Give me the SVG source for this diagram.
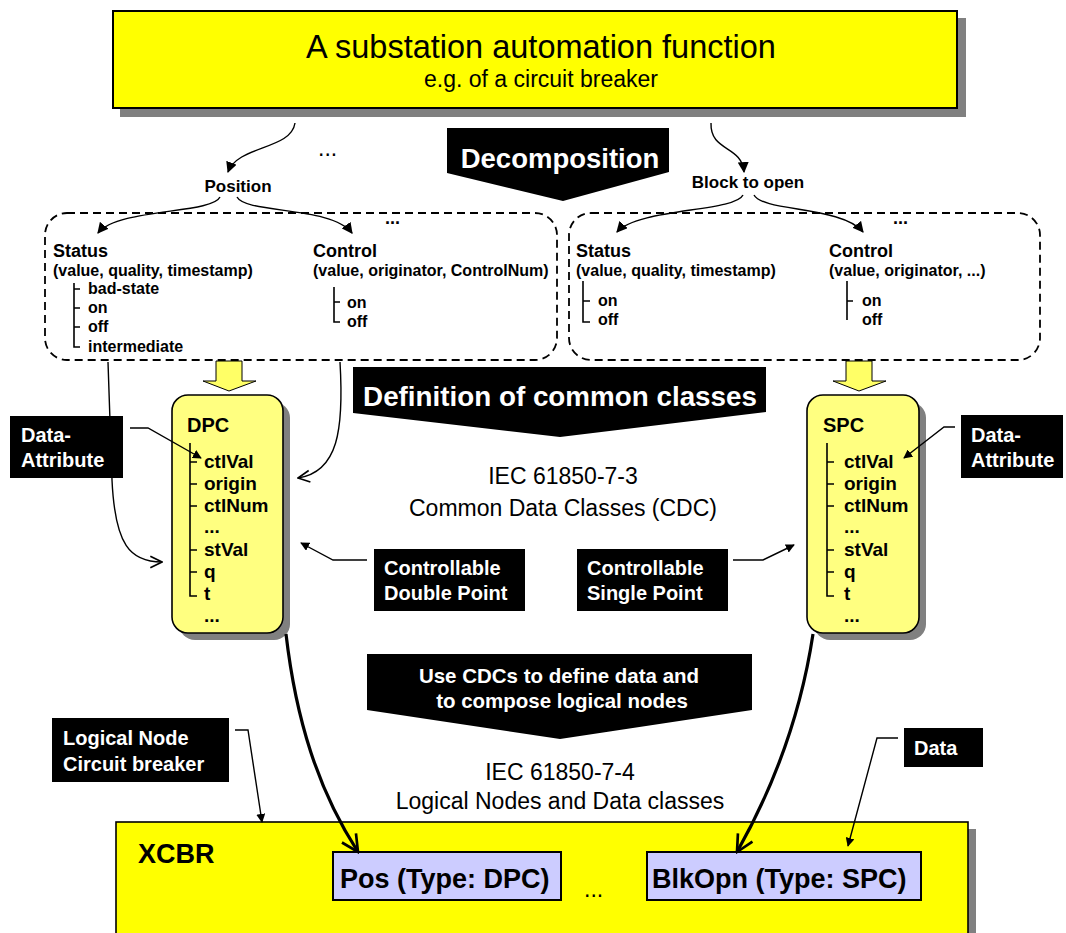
<svg xmlns="http://www.w3.org/2000/svg" width="1066" height="933" viewBox="0 0 1066 933">
<defs>
<marker id="fa" viewBox="0 0 10 10" refX="9" refY="5" markerWidth="9" markerHeight="9" markerUnits="userSpaceOnUse" orient="auto"><path d="M0,0 L10,5 L0,10 z" fill="#000"/></marker>
<marker id="fa2" viewBox="0 0 10 10" refX="9" refY="5" markerWidth="11" markerHeight="11" markerUnits="userSpaceOnUse" orient="auto"><path d="M0,0 L10,5 L0,10 z" fill="#000"/></marker>
<marker id="oa" viewBox="0 0 12 12" refX="11" refY="6" markerWidth="14" markerHeight="14" markerUnits="userSpaceOnUse" orient="auto"><path d="M1,1 L11,6 L1,11" fill="none" stroke="#000" stroke-width="1.4"/></marker>
<marker id="ob" viewBox="0 0 12 12" refX="11" refY="6" markerWidth="20" markerHeight="20" markerUnits="userSpaceOnUse" orient="auto"><path d="M1,1 L11,6 L1,11" fill="none" stroke="#000" stroke-width="1.6"/></marker>
</defs>
<style>
text{font-family:"Liberation Sans",Arial,sans-serif;}
.b{font-weight:bold;}
.w{fill:#fff;font-weight:bold;}
.thin{fill:none;stroke:#000;stroke-width:1.4;}
.thick{fill:none;stroke:#000;stroke-width:3.2;}
.dash{fill:none;stroke:#000;stroke-width:1.8;stroke-dasharray:8,5;}
.tree{fill:none;stroke:#000;stroke-width:1.6;}
.shadow{fill:#808080;}
.yl{fill:#FFFF00;stroke:#000;stroke-width:2;}
.ly{fill:#FFFF80;stroke:#000;stroke-width:1.6;}
.blk{fill:#000;}
.lav{fill:#CCCCFF;stroke:#000;stroke-width:2;}
</style>
<rect width="1066" height="933" fill="#fff"/>

<g id="top-function">
<rect class="shadow" x="120" y="18" width="846" height="99"/>
<rect class="yl" x="113" y="11" width="844" height="97"/>
<text x="541" y="58" font-size="32.5" text-anchor="middle">A substation automation function</text>
<text x="541" y="87" font-size="23" text-anchor="middle">e.g. of a circuit breaker</text>
</g>

<g id="decomposition">
<polygon class="blk" points="447,128 669,128 669,172 563,201 447,173"/>
<text class="w" x="560" y="168" font-size="27.5" text-anchor="middle">Decomposition</text>
</g>

<g id="labels-top">
<text class="b" x="238" y="192" font-size="17" text-anchor="middle">Position</text>
<text class="b" x="748" y="188" font-size="17" text-anchor="middle">Block to open</text>
<text x="318" y="156" font-size="23">...</text>
</g>

<g id="position-box">
<rect class="dash" x="45" y="213" width="512" height="147" rx="22"/>
<text class="b" x="385" y="224" font-size="18">...</text>
<text class="b" x="53" y="257" font-size="18">Status</text>
<text class="b" x="53" y="276" font-size="16">(value, quality, timestamp)</text>
<path class="tree" d="M74,283 V347 H80 M74,289 H80 M74,308 H80 M74,327 H80"/>
<text class="b" x="88" y="294" font-size="16">bad-state</text>
<text class="b" x="88" y="313" font-size="16">on</text>
<text class="b" x="88" y="332" font-size="16">off</text>
<text class="b" x="88" y="352" font-size="16">intermediate</text>
<text class="b" x="313" y="257" font-size="18">Control</text>
<text class="b" x="313" y="276" font-size="16">(value, originator, ControlNum)</text>
<path class="tree" d="M334,287 V322 H340 M334,302 H340"/>
<text class="b" x="347" y="308" font-size="16">on</text>
<text class="b" x="347" y="327" font-size="16">off</text>
</g>

<g id="block-box">
<rect class="dash" x="569" y="213" width="471" height="147" rx="22"/>
<text class="b" x="893" y="224" font-size="18">...</text>
<text class="b" x="576" y="257" font-size="18">Status</text>
<text class="b" x="576" y="276" font-size="16">(value, quality, timestamp)</text>
<path class="tree" d="M583,281 V322 H590 M583,301 H590"/>
<text class="b" x="598" y="306" font-size="16">on</text>
<text class="b" x="598" y="325" font-size="16">off</text>
<text class="b" x="829" y="257" font-size="18">Control</text>
<text class="b" x="829" y="276" font-size="16">(value, originator, ...)</text>
<path class="tree" d="M847,281 V320 M847,301 H853"/>
<text class="b" x="862" y="306" font-size="16">on</text>
<text class="b" x="862" y="325" font-size="16">off</text>
</g>

<g id="definition">
<polygon class="blk" points="353,367 766,367 766,412 560,437 353,413"/>
<text class="w" x="560" y="406" font-size="27.8" text-anchor="middle">Definition of common classes</text>
</g>

<g id="cdc-label">
<text x="563" y="484" font-size="23" text-anchor="middle">IEC 61850-7-3</text>
<text x="563" y="516" font-size="23" text-anchor="middle">Common Data Classes (CDC)</text>
</g>

<g id="dpc">
<polygon fill="#FFFF66" stroke="#000" stroke-width="1" points="216,361 242,361 242,381 256,381 229,391 203,381 216,381"/>
<rect class="shadow" x="179" y="402" width="111" height="238" rx="16"/>
<rect class="ly" x="172" y="395" width="111" height="238" rx="16"/>
<text class="b" x="187" y="432" font-size="20">DPC</text>
<path class="tree" d="M190,443 V596 H197 M190,462 H197 M190,484 H197 M190,506 H197 M190,550 H197 M190,572 H197"/>
<text class="b" x="204" y="468" font-size="19">ctlVal</text>
<text class="b" x="204" y="490" font-size="19">origin</text>
<text class="b" x="204" y="512" font-size="19">ctlNum</text>
<text class="b" x="204" y="533" font-size="19">...</text>
<text class="b" x="204" y="556" font-size="19">stVal</text>
<text class="b" x="204" y="578" font-size="19">q</text>
<text class="b" x="204" y="600" font-size="19">t</text>
<text class="b" x="204" y="622" font-size="19">...</text>
</g>

<g id="spc">
<polygon fill="#FFFF66" stroke="#000" stroke-width="1" points="846,361 872,361 872,381 886,381 859,391 833,381 846,381"/>
<rect class="shadow" x="814" y="402" width="112" height="238" rx="16"/>
<rect class="ly" x="807" y="395" width="112" height="238" rx="16"/>
<text class="b" x="823" y="432" font-size="20">SPC</text>
<path class="tree" d="M827,443 V596 H834 M827,462 H834 M827,484 H834 M827,506 H834 M827,550 H834 M827,572 H834"/>
<text class="b" x="844" y="468" font-size="19">ctlVal</text>
<text class="b" x="844" y="490" font-size="19">origin</text>
<text class="b" x="844" y="512" font-size="19">ctlNum</text>
<text class="b" x="844" y="533" font-size="19">...</text>
<text class="b" x="844" y="556" font-size="19">stVal</text>
<text class="b" x="844" y="578" font-size="19">q</text>
<text class="b" x="844" y="600" font-size="19">t</text>
<text class="b" x="844" y="622" font-size="19">...</text>
</g>

<g id="data-attribute-left">
<rect class="blk" x="10" y="416" width="113" height="62"/>
<text class="w" x="21" y="442" font-size="20">Data-</text>
<text class="w" x="21" y="467" font-size="20">Attribute</text>
</g>
<g id="data-attribute-right">
<rect class="blk" x="961" y="415" width="102" height="63"/>
<text class="w" x="971" y="442" font-size="20">Data-</text>
<text class="w" x="971" y="467" font-size="20">Attribute</text>
</g>

<g id="double-point">
<rect class="blk" x="374" y="549" width="151" height="62"/>
<text class="w" x="384" y="575" font-size="20">Controllable</text>
<text class="w" x="384" y="600" font-size="20">Double Point</text>
</g>
<g id="single-point">
<rect class="blk" x="577" y="549" width="151" height="62"/>
<text class="w" x="587" y="575" font-size="20">Controllable</text>
<text class="w" x="587" y="600" font-size="20">Single Point</text>
</g>

<g id="use-cdcs">
<polygon class="blk" points="367,654 752,654 752,710 560,739 367,710"/>
<text class="w" x="559" y="683" font-size="20.5" text-anchor="middle">Use CDCs to define data and</text>
<text class="w" x="562" y="708" font-size="20.5" text-anchor="middle">to compose logical nodes</text>
</g>

<g id="ln-label">
<text x="560" y="780" font-size="23" text-anchor="middle">IEC 61850-7-4</text>
<text x="560" y="809" font-size="23" text-anchor="middle">Logical Nodes and Data classes</text>
</g>

<g id="logical-node-label">
<rect class="blk" x="52" y="718" width="177" height="64"/>
<text class="w" x="63" y="745" font-size="20">Logical Node</text>
<text class="w" x="63" y="771" font-size="20">Circuit breaker</text>
</g>
<g id="data-label">
<rect class="blk" x="904" y="728" width="79" height="39"/>
<text class="w" x="914" y="755" font-size="20">Data</text>
</g>

<g id="xcbr">
<rect class="shadow" x="123" y="829" width="853" height="120"/>
<rect fill="#FFFF00" stroke="#000" stroke-width="1.6" x="116" y="822" width="852" height="130"/>
<text class="b" x="138" y="863" font-size="27">XCBR</text>
</g>
<g id="pos">
<rect class="lav" x="333" y="852" width="228" height="48"/>
<text class="b" x="340" y="888" font-size="27">Pos (Type: DPC)</text>
</g>
<text x="584" y="897" font-size="23">...</text>
<g id="blkopn">
<rect class="lav" x="647" y="852" width="274" height="48"/>
<text class="b" x="652" y="888" font-size="27">BlkOpn (Type: SPC)</text>
</g>

<g id="connectors">
<path class="thin" d="M295,123 C291,150 238,145 228,172" marker-end="url(#fa2)"/>
<path class="thin" d="M711,123 C710,152 742,145 744,172" marker-end="url(#fa2)"/>
<path class="thin" d="M220,197 C212,214 118,208 98,233" marker-end="url(#fa2)"/>
<path class="thin" d="M237,197 C246,214 332,206 352,233" marker-end="url(#fa2)"/>
<path class="thin" d="M743,195 C735,212 638,208 617,232" marker-end="url(#fa2)"/>
<path class="thin" d="M754,195 C763,212 842,206 863,232" marker-end="url(#fa2)"/>
<path class="thin" d="M108,362 L112,480 C115,545 130,562 162,562" marker-end="url(#oa)"/>
<path class="thin" d="M340,362 C344,430 338,472 298,478" marker-end="url(#oa)"/>
<path class="thin" d="M130,428 L148,428 L201,458" marker-end="url(#fa)"/>
<path class="thin" d="M955,427 L944,427 L904,458" marker-end="url(#fa)"/>
<path class="thin" d="M367,560 L333,560 L301,543" marker-end="url(#fa)"/>
<path class="thin" d="M733,560 L763,560 L794,545" marker-end="url(#fa)"/>
<path class="thin" d="M235,730 L248,730 L262,822" marker-end="url(#fa)"/>
<path class="thin" d="M898,738 L877,738 L848,846" marker-end="url(#fa)"/>
<path class="thick" d="M286,634 C296,720 318,790 358,852" marker-end="url(#ob)"/>
<path class="thick" d="M813,634 C800,720 772,790 737,852" marker-end="url(#ob)"/>
</g>
</svg>
